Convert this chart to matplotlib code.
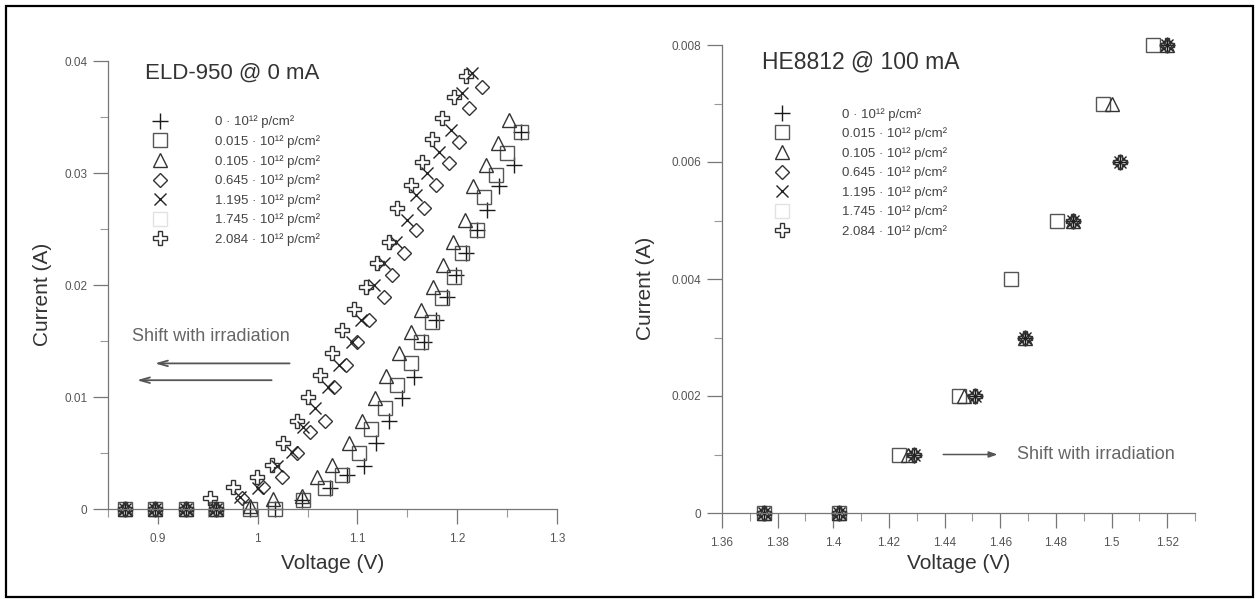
import matplotlib.pyplot as plt
from matplotlib.patches import Rectangle
from matplotlib.ticker import MultipleLocator, FormatStrFormatter

plt.rcParams['font.family'] = ['Liberation Sans', 'DejaVu Sans']

# fluence of each irradiation step (x 10^12 p/cm^2)
fluences = ["0", "0.015", "0.105", "0.645", "1.195", "1.745", "2.084"]

# ELD-950 @ 0 mA : voltage (V) / current (A) per fluence
eld_v0 = [0.867, 0.897, 0.928, 0.958, 0.992, 1.017, 1.044, 1.072, 1.090, 1.107, 1.119, 1.132,
          1.145, 1.157, 1.167, 1.179, 1.190, 1.199, 1.209, 1.220, 1.230, 1.242, 1.257, 1.264]
eld_i0 = [0, 0, 0, 0, 0, 0, 0.0008, 0.0019, 0.0030, 0.0038, 0.0059, 0.0079,
          0.0099, 0.0118, 0.0149, 0.0169, 0.0189, 0.0209, 0.0229, 0.0249, 0.0267, 0.0288, 0.0307, 0.0337]
eld_v1 = [0.867, 0.897, 0.928, 0.958, 0.992, 1.017, 1.045, 1.067, 1.085, 1.102, 1.114, 1.128,
          1.140, 1.154, 1.164, 1.175, 1.185, 1.197, 1.205, 1.220, 1.227, 1.239, 1.250, 1.264]
eld_i1 = [0, 0, 0, 0, 0, 0, 0.0008, 0.0019, 0.0030, 0.0050, 0.0071, 0.0090,
          0.0111, 0.0130, 0.0149, 0.0167, 0.0188, 0.0207, 0.0229, 0.0249, 0.0279, 0.0298, 0.0318, 0.0337]
eld_v2 = [0.867, 0.897, 0.928, 0.958, 0.992, 1.015, 1.044, 1.059, 1.075, 1.092, 1.105, 1.118,
          1.129, 1.142, 1.154, 1.164, 1.176, 1.186, 1.196, 1.208, 1.216, 1.229, 1.241, 1.252]
eld_i2 = [0, 0, 0, 0, 0.0003, 0.0009, 0.0012, 0.0029, 0.0039, 0.0059, 0.0079, 0.0099,
          0.0119, 0.0139, 0.0158, 0.0178, 0.0198, 0.0218, 0.0238, 0.0258, 0.0288, 0.0307, 0.0327, 0.0347]
eld_v3 = [0.867, 0.897, 0.928, 0.958, 0.984, 1.005, 1.024, 1.039, 1.052, 1.067, 1.077, 1.089,
          1.100, 1.112, 1.127, 1.135, 1.147, 1.159, 1.167, 1.179, 1.192, 1.202, 1.212, 1.225]
eld_i3 = [0, 0, 0, 0, 0.0010, 0.0020, 0.0029, 0.0050, 0.0069, 0.0079, 0.0109, 0.0129,
          0.0149, 0.0169, 0.0189, 0.0209, 0.0229, 0.0249, 0.0269, 0.0289, 0.0309, 0.0328, 0.0358, 0.0377]
eld_v4 = [0.867, 0.897, 0.928, 0.958, 0.982, 1.000, 1.019, 1.034, 1.045, 1.057, 1.070, 1.082,
          1.095, 1.104, 1.117, 1.127, 1.139, 1.150, 1.159, 1.170, 1.182, 1.194, 1.205, 1.215]
eld_i4 = [0, 0, 0, 0, 0.0011, 0.0019, 0.0038, 0.0051, 0.0073, 0.0090, 0.0109, 0.0129,
          0.0149, 0.0169, 0.0200, 0.0220, 0.0238, 0.0258, 0.0280, 0.0300, 0.0319, 0.0338, 0.0371, 0.0389]
eld_v5 = []
eld_i5 = []
eld_v6 = [0.867, 0.897, 0.928, 0.958, 0.952, 0.975, 0.999, 1.014, 1.025, 1.039, 1.050, 1.062, 1.074,
          1.085, 1.097, 1.109, 1.120, 1.132, 1.140, 1.154, 1.165, 1.175, 1.185, 1.197, 1.209]
eld_i6 = [0, 0, 0, 0, 0.0010, 0.0020, 0.0029, 0.0039, 0.0059, 0.0079, 0.0100, 0.0120, 0.0139,
          0.0160, 0.0179, 0.0198, 0.0220, 0.0238, 0.0269, 0.0289, 0.0310, 0.0330, 0.0349, 0.0368, 0.0387]

# HE8812 @ 100 mA
he_v0 = [1.375, 1.402, 1.429, 1.451, 1.469, 1.486, 1.503, 1.520]
he_i0 = [0, 0, 0.001, 0.002, 0.003, 0.005, 0.006, 0.008]
he_v1 = [1.375, 1.402, 1.4235, 1.445, 1.464, 1.4805, 1.497, 1.515]
he_i1 = [0, 0, 0.001, 0.002, 0.004, 0.005, 0.007, 0.008]
he_v2 = [1.375, 1.402, 1.427, 1.447, 1.469, 1.486, 1.500, 1.520]
he_i2 = [0, 0, 0.001, 0.002, 0.003, 0.005, 0.007, 0.008]
he_v3 = [1.375, 1.402, 1.429, 1.451, 1.469, 1.486, 1.503, 1.520]
he_i3 = [0, 0, 0.001, 0.002, 0.003, 0.005, 0.006, 0.008]
he_v4 = [1.375, 1.402, 1.429, 1.451, 1.469, 1.486, 1.503, 1.520]
he_i4 = [0, 0, 0.001, 0.002, 0.003, 0.005, 0.006, 0.008]
he_v5 = []
he_i5 = []
he_v6 = [1.375, 1.402, 1.429, 1.451, 1.469, 1.486, 1.503, 1.520]
he_i6 = [0, 0, 0.001, 0.002, 0.003, 0.005, 0.006, 0.008]

markers = ['+', 's', '^', 'D', 'x', 's', 'P']
msizes = [11, 10, 9.5, 7, 9, 9.5, 9.5]
mcolors = ['#1a1a1a', '#555555', '#333333', '#333333', '#222222', '#e2e2e2', '#333333']
grey = '#777777'


def draw_series(ax, volts, amps):
    for k in range(len(fluences)):
        ax.plot(volts[k], amps[k], linestyle='none', marker=markers[k], ms=msizes[k],
                mfc='none', mec=mcolors[k], mew=1.0, clip_on=False,
                label=f"{fluences[k]} · 10¹² p/cm²")


def style_axes(ax, xmaj, xmin_, ymaj, ymin_):
    for side in ('top', 'right'):
        ax.spines[side].set_visible(False)
    for side in ('left', 'bottom'):
        ax.spines[side].set_color(grey)
        ax.spines[side].set_linewidth(0.9)
    ax.xaxis.set_major_locator(MultipleLocator(xmaj))
    ax.xaxis.set_minor_locator(MultipleLocator(xmin_))
    ax.yaxis.set_major_locator(MultipleLocator(ymaj))
    ax.yaxis.set_minor_locator(MultipleLocator(ymin_))
    ax.xaxis.set_major_formatter(FormatStrFormatter('%g'))
    ax.yaxis.set_major_formatter(FormatStrFormatter('%g'))
    ax.tick_params(which='major', direction='out', length=11, width=0.9, color=grey,
                   labelsize=8.5, labelcolor='#555555', pad=4)
    ax.tick_params(axis='x', which='major', pad=6)
    ax.tick_params(which='minor', direction='out', length=5.5, width=0.8, color='#999999')
    ax.set_xlabel('Voltage (V)', fontsize=15, color='#333333')
    ax.set_ylabel('Current (A)', fontsize=15, color='#333333')


fig = plt.figure(figsize=(12.56, 5.99), dpi=100)

# left panel: ELD-950
ax1 = fig.add_axes([108 / 1256, 90 / 599, 449 / 1256, 448 / 599])
draw_series(ax1, [eld_v0, eld_v1, eld_v2, eld_v3, eld_v4, eld_v5, eld_v6],
            [eld_i0, eld_i1, eld_i2, eld_i3, eld_i4, eld_i5, eld_i6])
ax1.set_xlim(0.85, 1.3)
ax1.set_ylim(0, 0.04)
style_axes(ax1, 0.1, 0.05, 0.01, 0.005)
ax1.xaxis.set_label_coords(0.5, -0.1)
ax1.yaxis.set_label_coords(-0.125, 0.48)
ax1.text(0.887, 0.0389, 'ELD-950 @ 0 mA', fontsize=16, color='#333333', va='center')
ax1.legend(loc='upper left', bbox_to_anchor=(0.094, 0.878), frameon=False, fontsize=9.5,
           handlelength=1.5, handletextpad=3.4, labelspacing=0.51, borderpad=0,
           borderaxespad=0, labelcolor='#444444')
ax1.text(0.874, 0.01536, 'Shift with irradiation', fontsize=13, color='#666666', va='center')
for y, x0, x1 in [(0.0130, 1.032, 0.897), (0.0115, 1.014, 0.879)]:
    ax1.annotate('', xy=(x1, y), xytext=(x0, y),
                 arrowprops=dict(arrowstyle='->,head_length=0.7,head_width=0.2',
                                 color='#555555', lw=1.3, shrinkA=0, shrinkB=0))

# right panel: HE8812
ax2 = fig.add_axes([722 / 1256, 86 / 599, 473 / 1256, 468 / 599])
draw_series(ax2, [he_v0, he_v1, he_v2, he_v3, he_v4, he_v5, he_v6],
            [he_i0, he_i1, he_i2, he_i3, he_i4, he_i5, he_i6])
ax2.set_xlim(1.36, 1.53)
ax2.set_ylim(0, 0.008)
style_axes(ax2, 0.02, 0.01, 0.002, 0.001)
ax2.xaxis.set_label_coords(0.5, -0.088)
ax2.yaxis.set_label_coords(-0.142, 0.48)
ax2.text(1.3744, 0.00771, 'HE8812 @ 100 mA', fontsize=16.5, color='#333333', va='center')
ax2.legend(loc='upper left', bbox_to_anchor=(0.106, 0.866), frameon=False, fontsize=9.5,
           handlelength=1.5, handletextpad=3.8, labelspacing=0.51, borderpad=0,
           borderaxespad=0, labelcolor='#444444')
ax2.annotate('', xy=(1.459, 0.001), xytext=(1.4395, 0.001),
             arrowprops=dict(arrowstyle='-|>,head_length=0.5,head_width=0.18',
                             color='#555555', lw=1.1, shrinkA=0, shrinkB=0))
ax2.text(1.466, 0.001, 'Shift with irradiation', fontsize=13, color='#666666', va='center')

# outer frame
fig.patches.append(Rectangle((6 / 1256, 2 / 599), 1247 / 1256, 591 / 599, transform=fig.transFigure,
                             fill=False, ec='black', lw=1.6))

fig.savefig('out.png', dpi=100)
